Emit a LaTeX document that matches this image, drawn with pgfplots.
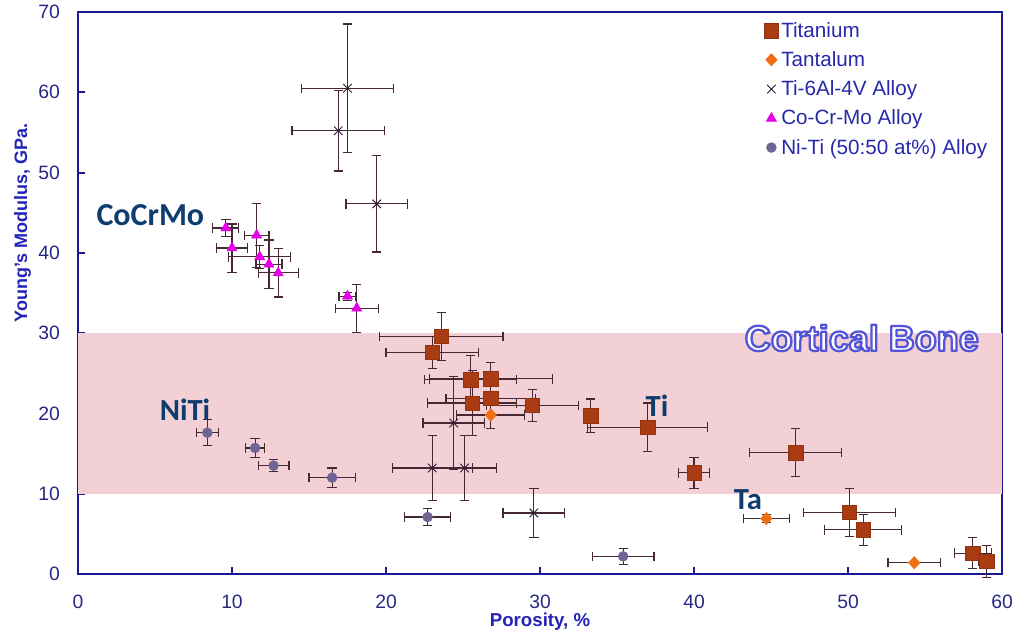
\documentclass[border=0pt]{standalone}
\usepackage{pgfplots}
\pgfplotsset{compat=1.18}
\usepackage{pgfplotstable}
\usepackage{fontspec}
\setmainfont{Liberation Sans}
\newfontfamily\calib{Carlito}
\definecolor{axblue}{RGB}{25,25,150}
\definecolor{ticknavy}{RGB}{40,40,130}
\definecolor{lblblue}{RGB}{35,35,185}
\definecolor{legblue}{RGB}{40,40,170}
\definecolor{annblue}{RGB}{15,60,110}
\definecolor{bandpink}{RGB}{242,208,214}
\definecolor{errc}{RGB}{70,40,50}
\definecolor{tibrown}{RGB}{170,60,20}
\definecolor{taorange}{RGB}{240,110,20}
\definecolor{tivblack}{RGB}{45,25,55}
\definecolor{comag}{RGB}{230,0,230}
\definecolor{nitigrey}{RGB}{110,100,150}

\pgfplotstableread{
x y ex ey
23.6 29.6 4.0 3.0
23.0 27.6 3.0 2.0
25.5 24.2 3.0 3.0
26.8 24.3 4.0 2.0
25.6 21.3 2.9 4.0
26.8 21.9 2.9 2.0
29.5 21.0 3.0 2.0
33.3 19.7 0.4 2.1
37.0 18.3 3.9 3.0
40.0 12.6 1.0 1.9
46.6 15.1 3.0 3.0
50.1 7.7 3.0 3.0
51.0 5.5 2.5 1.9
58.1 2.6 1.2 1.9
59.0 1.6 0.5 2.0
}\titanium
\pgfplotstableread{
x y ex ey
26.8 19.8 2.2 1.7
44.7 6.9 1.5 0.5
54.3 1.4 1.7 0
}\tantalum
\pgfplotstableread{
x y ex ey
17.5 60.5 3.0 8.0
16.9 55.2 3.0 5.0
19.4 46.1 2.0 6.0
24.4 18.8 2.0 5.8
23.0 13.2 2.6 4.0
25.1 13.2 2.1 4.0
29.6 7.6 2.0 3.0
}\tivalloy
\pgfplotstableread{
x y ex ey
9.6 43.1 0.85 1.1
10.0 40.6 1.0 3.0
11.6 42.2 0.8 4.0
11.8 39.5 2.0 1.4
12.4 38.6 0.85 3.0
13.0 37.5 1.3 3.0
17.5 34.6 0.55 0.5
18.1 33.1 1.4 3.0
}\cocrmo
\pgfplotstableread{
x y ex ey
8.4 17.6 0.7 1.6
11.5 15.7 0.6 1.2
12.7 13.5 1.0 0.75
16.5 12.0 1.5 1.2
22.7 7.1 1.5 1.05
35.4 2.2 2.0 1.0
}\niti

\pgfplotsset{eb/.style={only marks,
  error bars/x dir=both, error bars/x explicit,
  error bars/y dir=both, error bars/y explicit,
  error bars/error bar style={line width=0.85pt, color=errc},
  error bars/error mark options={rotate=90, mark size=3.5pt, line width=0.85pt, color=errc}}}

\begin{document}
\begin{tikzpicture}
\path[use as bounding box] (-58.5pt,-46.5pt) rectangle (703.5pt,430.5pt);
\begin{axis}[
  scale only axis, width=693pt, height=421.5pt,
  xmin=0, xmax=60, ymin=0, ymax=70,
  xtick={0,10,...,60}, ytick={0,10,...,70},
  clip=false,
  tick pos=left, tick align=inside, major tick length=5pt,
  axis line style={draw=axblue, line width=1.8pt},
  every tick/.style={draw=axblue, line width=1.5pt},
  tick label style={font=\fontsize{14.5}{16}\selectfont, text=ticknavy},
  /pgf/number format/assume math mode=true,
  xticklabel style={yshift=-12pt},
  yticklabel style={xshift=-10pt},
  xlabel={Porosity, \%},
  ylabel={Young's Modulus, GPa.},
  xlabel style={font=\bfseries\fontsize{14}{16}\selectfont, text=lblblue, at={(axis description cs:0.5,-0.085)}, anchor=center},
  ylabel style={font=\bfseries\fontsize{13.5}{16}\selectfont, text=lblblue, at={(axis description cs:-0.06,0.625)}, anchor=center},
  legend style={at={(axis description cs:0.738,0.992)}, anchor=north west, draw=none, fill=none,
    font=\fontsize{15.5}{18}\selectfont, text=legblue, row sep=5.2pt},
  legend cell align=left,
]
\addplot[draw=none, fill=bandpink, forget plot] coordinates {(0,10) (60,10) (60,30) (0,30)} -- cycle;

\addplot[eb, mark=square*, mark size=5.4pt, mark options={fill=tibrown, draw=tibrown!85!black}]
  table[x=x, y=y, x error=ex, y error=ey] {\titanium};
\addlegendentry{Titanium}
\addplot[eb, mark=diamond*, mark size=4.6pt, mark options={fill=taorange, draw=taorange, xscale=1.25}]
  table[x=x, y=y, x error=ex, y error=ey] {\tantalum};
\addlegendentry{Tantalum}
\addplot[eb, mark=x, mark size=4.5pt, mark options={draw=tivblack, line width=0.7pt}]
  table[x=x, y=y, x error=ex, y error=ey] {\tivalloy};
\addlegendentry{Ti-6Al-4V Alloy}
\addplot[eb, mark=triangle*, mark size=4.4pt, mark options={fill=comag, draw=comag}]
  table[x=x, y=y, x error=ex, y error=ey] {\cocrmo};
\addlegendentry{Co-Cr-Mo Alloy}
\addplot[eb, mark=*, mark size=3.7pt, mark options={fill=nitigrey, draw=nitigrey}]
  table[x=x, y=y, x error=ex, y error=ey] {\niti};
\addlegendentry{Ni-Ti (50:50 at\%) Alloy}

\node[font=\calib\bfseries\fontsize{24}{28}\selectfont, text=annblue] at (axis cs:4.7,44.7) {CoCrMo};
\node[font=\calib\bfseries\fontsize{23}{28}\selectfont, text=annblue] at (axis cs:6.95,20.4) {NiTi};
\node[font=\calib\bfseries\fontsize{23}{28}\selectfont, text=annblue] at (axis cs:37.6,20.9) {Ti};
\node[font=\calib\bfseries\fontsize{23}{28}\selectfont, text=annblue] at (axis cs:43.5,9.2) {Ta};
\node[font=\bfseries\fontsize{27}{30}\selectfont, text=white] at (axis cs:50.9,29.4)
  {\special{pdf:literal direct 2 Tr 1.7 w 1 j 0.33 0.33 0.85 RG}Cortical Bone\special{pdf:literal direct 0 Tr}};
\end{axis}
\end{tikzpicture}
\end{document}
